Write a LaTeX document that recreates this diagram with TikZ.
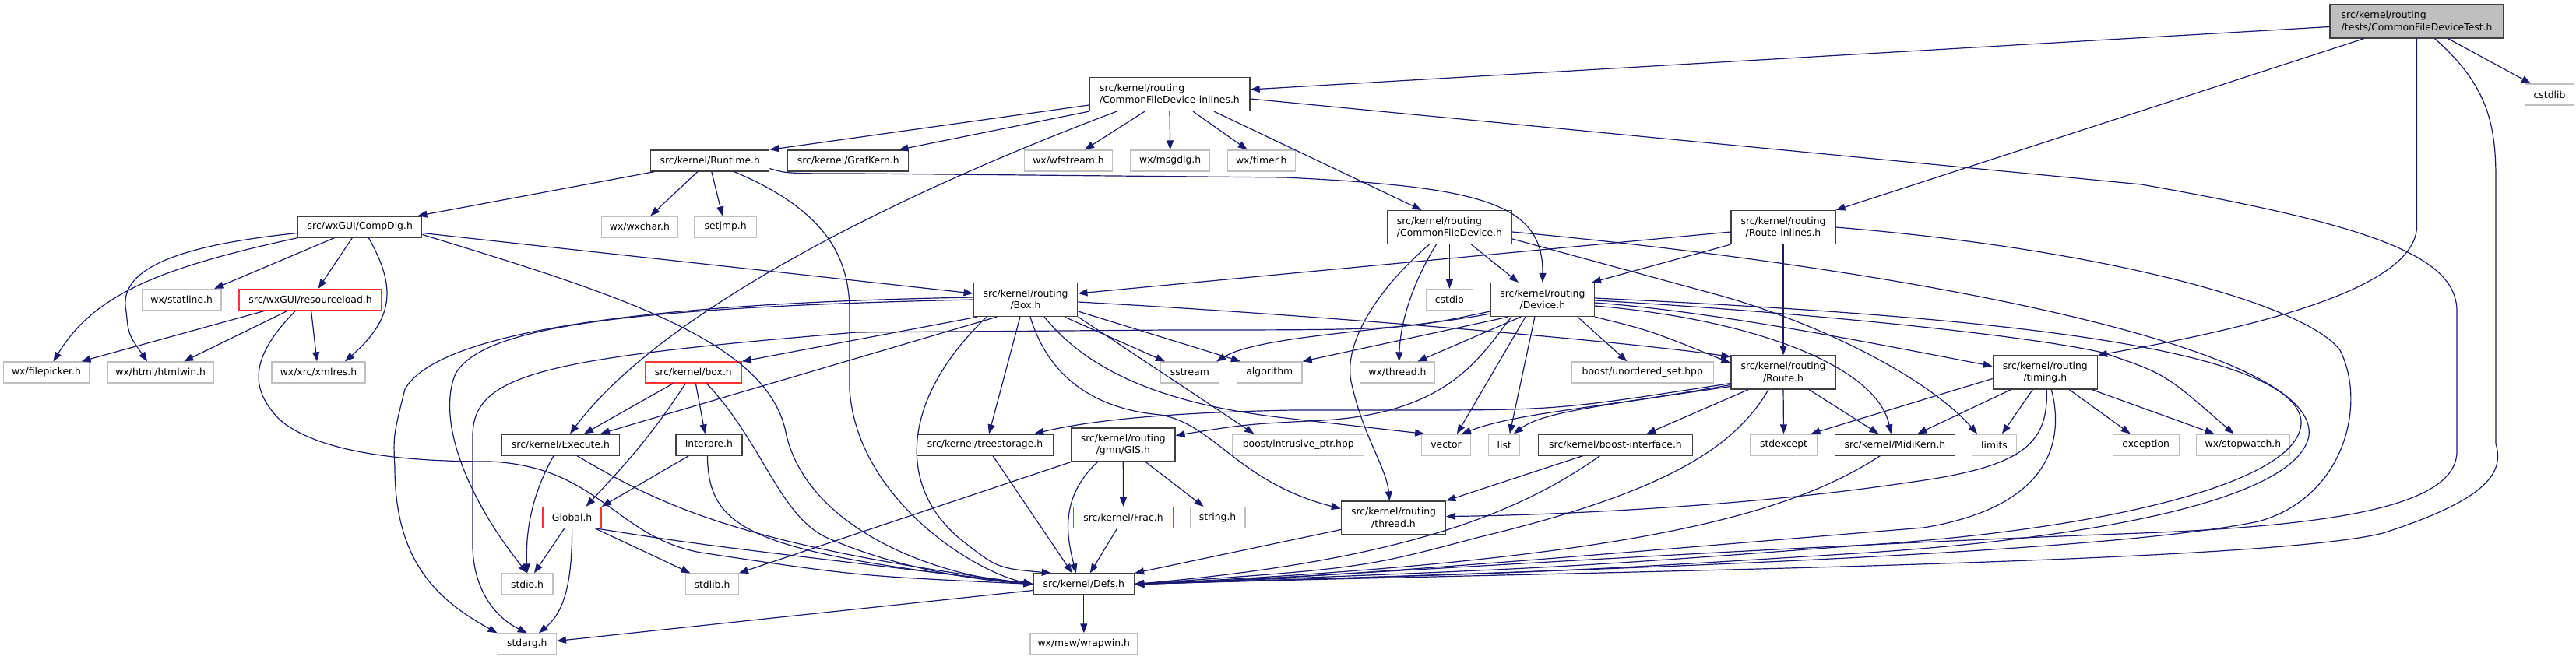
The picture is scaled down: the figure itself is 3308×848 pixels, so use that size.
\documentclass[tikz,border=0pt]{standalone}
\usepackage{fontspec}
\setmainfont{DejaVu Sans}
\usetikzlibrary{arrows.meta}
\definecolor{edgecol}{HTML}{191970}
\definecolor{trunccol}{HTML}{FF3030}
\newcommand{\dxfont}{\fontsize{12.4}{15.7}\selectfont}
\tikzset{
  hdr/.style  ={draw=black!75, fill=white, line width=1.3pt, inner sep=2pt,
                minimum height=27, font=\dxfont},
  sysh/.style ={hdr, draw=black!25},
  trunc/.style={hdr, draw=trunccol},
  root/.style ={hdr, fill=black!25},
  two/.style  ={minimum height=43},
  ar/.style   ={-{Triangle[length=12pt,width=9pt]}, draw=edgecol, line width=1.2pt},
}

\begin{document}
\begin{tikzpicture}[x=1pt, y=-1pt]
\useasboundingbox (0,0) rectangle (3308,848);
\node[root, two, minimum width=223, align=left] (test) at (3103.6,27.5) {src/kernel/routing\\/tests/CommonFileDeviceTest.h};
\node[sysh, minimum width=63.6] (cstdlib) at (3274,121.5) {cstdlib};
\node[hdr, two, minimum width=206, align=left] (cfdinl) at (1502,121) {src/kernel/routing\\/CommonFileDevice-inlines.h};
\node[hdr, minimum width=152] (runtime) at (911.8,206.5) {src/kernel/Runtime.h};
\node[hdr, minimum width=155] (grafkern) at (1089.3,206.5) {src/kernel/GrafKern.h};
\node[sysh, minimum width=113.6] (wfstream) at (1372,206.5) {wx/wfstream.h};
\node[sysh, minimum width=101.8] (msgdlg) at (1502.7,206.5) {wx/msgdlg.h};
\node[sysh, minimum width=86.8] (timer) at (1619.8,206.5) {wx/timer.h};
\node[hdr, minimum width=159] (compdlg) at (462.3,291.5) {src/wxGUI/CompDlg.h};
\node[sysh, minimum width=98] (wxchar) at (821.4,291.5) {wx/wxchar.h};
\node[sysh, minimum width=79.4] (setjmp) at (931.7,291.5) {setjmp.h};
\node[hdr, two, minimum width=160, align=left] (cfd) at (1861.4,292) {src/kernel/routing\\/CommonFileDevice.h};
\node[hdr, two, minimum width=134, align=center] (routeinl) at (2290,292) {src/kernel/routing\\/Route-inlines.h};
\node[sysh, minimum width=101.4] (statline) at (233.2,385) {wx/statline.h};
\node[trunc, minimum width=183] (resload) at (398.6,385) {src/wxGUI/resourceload.h};
\node[hdr, two, minimum width=133.6, align=center] (rbox) at (1317,385) {src/kernel/routing\\/Box.h};
\node[sysh, minimum width=60] (cstdio) at (1861.4,385) {cstdio};
\node[hdr, two, minimum width=133.2, align=center] (device) at (1980.9,385) {src/kernel/routing\\/Device.h};
\node[sysh, minimum width=109.7] (filepicker) at (59.5,478.5) {wx/filepicker.h};
\node[sysh, minimum width=136] (htmlwin) at (206.2,478.5) {wx/html/htmlwin.h};
\node[sysh, minimum width=120] (xmlres) at (409,478.5) {wx/xrc/xmlres.h};
\node[trunc, minimum width=123.5] (kbox) at (890.4,478.5) {src/kernel/box.h};
\node[sysh, minimum width=75] (sstream) at (1527.9,478.5) {sstream};
\node[sysh, minimum width=83.4] (algorithm) at (1630.3,478.5) {algorithm};
\node[sysh, minimum width=96] (wxthread) at (1794.5,478.5) {wx/thread.h};
\node[sysh, minimum width=182.8] (uset) at (2109.3,478.5) {boost/unordered\_set.hpp};
\node[hdr, two, minimum width=134, align=center] (route) at (2290,478.5) {src/kernel/routing\\/Route.h};
\node[hdr, two, minimum width=134, align=center] (timing) at (2626.3,478.5) {src/kernel/routing\\/timing.h};
\node[hdr, minimum width=151.4] (execute) at (720,571.5) {src/kernel/Execute.h};
\node[hdr, minimum width=85] (interpre) at (910.4,571.5) {Interpre.h};
\node[hdr, minimum width=175] (treestorage) at (1265,571.5) {src/kernel/treestorage.h};
\node[hdr, two, minimum width=133.2, align=center] (gis) at (1442.3,571.5) {src/kernel/routing\\/gmn/GIS.h};
\node[sysh, minimum width=169] (intrusive) at (1667.3,571.5) {boost/intrusive\_ptr.hpp};
\node[sysh, minimum width=62.5] (vector) at (1857,571.5) {vector};
\node[sysh, minimum width=40] (list) at (1931.8,571.5) {list};
\node[hdr, minimum width=197.5] (boostif) at (2074.5,571.5) {src/kernel/boost-interface.h};
\node[sysh, minimum width=85.4] (stdexcept) at (2290.5,571.5) {stdexcept};
\node[hdr, minimum width=154] (midikern) at (2433.4,571.5) {src/kernel/MidiKern.h};
\node[sysh, minimum width=56.4] (limits) at (2561,571.5) {limits};
\node[sysh, minimum width=85] (exception) at (2755.7,571.5) {exception};
\node[sysh, minimum width=119.3] (stopwatch) at (2880.4,571.5) {wx/stopwatch.h};
\node[trunc, minimum width=75] (global) at (734.6,665) {Global.h};
\node[trunc, minimum width=127.8] (frac) at (1442.5,665) {src/kernel/Frac.h};
\node[sysh, minimum width=70.7] (string) at (1563.6,665) {string.h};
\node[hdr, two, minimum width=134, align=center] (rthread) at (1789.5,665.5) {src/kernel/routing\\/thread.h};
\node[sysh, minimum width=65.7] (stdio) at (677,750.5) {stdio.h};
\node[sysh, minimum width=67.5] (stdlib) at (914.5,750.5) {stdlib.h};
\node[hdr, minimum width=129.3] (defs) at (1391.8,750.5) {src/kernel/Defs.h};
\node[sysh, minimum width=75] (stdarg) at (676.8,827.5) {stdarg.h};
\node[sysh, minimum width=137.8] (wrapwin) at (1391.8,827.5) {wx/msw/wrapwin.h};

\draw[ar] ([yshift=-7]test.west) -- ([yshift=6]cfdinl.east);
\draw[ar] ([xshift=-68]test.south) -- (routeinl.north east);
\draw[ar] (test.south) -- (3103.6,290) .. controls (3103.6,370) and (2900,420) .. (timing.north east);
\draw[ar] ([xshift=40]test.south) -- ([xshift=-24]cstdlib.north);
\draw[ar] ([xshift=23]test.south) .. controls (3195,110) and (3205,160) .. (3205,230) -- (3205,570)
  .. controls (3215,605) and (3200,640) .. (3060,685) .. controls (2900,725) and (2000,735) .. (defs.east);

\draw[ar] ([yshift=-14]cfdinl.west) -- (runtime.north east);
\draw[ar] (cfdinl.south west) -- ([xshift=-13]grafkern.north east);
\draw[ar] ([xshift=-32]cfdinl.south) -- ([xshift=21]wfstream.north);
\draw[ar] (cfdinl.south) -- (msgdlg.north);
\draw[ar] ([xshift=30]cfdinl.south) -- ([xshift=-18]timer.north);
\draw[ar] ([xshift=57]cfdinl.south) -- ([xshift=-36]cfd.north);
\draw[ar] ([xshift=-68]cfdinl.south) .. controls (1150,250) and (850,400) .. ([xshift=12]execute.north);
\draw[ar] ([yshift=-6]cfdinl.east) -- (2750,237) .. controls (3050,290) and (3155,330) .. (3155,400) -- (3155,580)
  .. controls (3155,650) and (3000,675) .. (2750,685) .. controls (2200,705) and (1700,742) .. (defs.east);

\draw[ar] ([xshift=5]runtime.south west) -- ([xshift=-6]compdlg.north east);
\draw[ar] ([xshift=-16]runtime.south) -- ([xshift=14]wxchar.north);
\draw[ar] ([xshift=2]runtime.south) -- ([xshift=-4]setjmp.north);
\draw[ar] ([yshift=-10]runtime.east) .. controls (1010,223) .. (1100,223) -- (1650,228)
  .. controls (1900,240) and (1982,260) .. (device.north);
\draw[ar] ([xshift=31]runtime.south) .. controls (1060,270) and (1091,330) .. (1091,400) -- (1091,500)
  .. controls (1100,640) and (1250,735) .. (defs.west);

\draw[ar] ([xshift=-33]compdlg.south) -- ([xshift=42]statline.north);
\draw[ar] ([xshift=-10]compdlg.south) -- ([xshift=10]resload.north);
\draw[ar] (compdlg.south west) .. controls (200,345) and (120,380) .. ([xshift=9]filepicker.north);
\draw[ar] ([yshift=-8]compdlg.west) .. controls (230,315) and (150,345) .. (162,400) .. controls (165,430) .. ([xshift=-17]htmlwin.north);
\draw[ar] ([xshift=11]compdlg.south) .. controls (510,370) and (505,410) .. ([xshift=34]xmlres.north);
\draw[ar] ([yshift=-8]compdlg.east) -- ([yshift=8]rbox.west);
\draw[ar] ([yshift=-10]compdlg.east) .. controls (800,380) and (990,440) .. (1010,560)
  .. controls (1040,680) and (1200,740) .. (defs.west);

\draw[ar] ([xshift=-58]resload.south) -- ([xshift=45]filepicker.north);
\draw[ar] ([xshift=-29]resload.south) -- ([xshift=30]htmlwin.north);
\draw[ar] ([xshift=1]resload.south) -- ([xshift=-2]xmlres.north);
\draw[ar] ([xshift=-19]resload.south) .. controls (320,460) and (320,500) .. (360,540)
  .. controls (420,590) and (560,593) .. (630,593) .. controls (770,600) and (790,690) .. (900,710)
  .. controls (1100,740) .. (defs.west);

\draw[ar] (cfd.south) -- (cstdio.north);
\draw[ar] ([xshift=28]cfd.south) -- ([xshift=-31]device.north);
\draw[ar] ([xshift=-17]cfd.south) .. controls (1810,370) and (1798,420) .. ([xshift=2]wxthread.north);
\draw[ar] ([xshift=-26]cfd.south) .. controls (1770,370) and (1725,440) .. (1735,490)
  .. controls (1750,560) and (1780,600) .. ([xshift=-5]rthread.north);
\draw[ar] ([yshift=-15]cfd.east) -- (2210,380) .. controls (2350,420) and (2480,490) .. ([xshift=-22]limits.north);
\draw[ar] ([yshift=-6]cfd.east) .. controls (2400,340) and (2980,440) .. (2965,560)
  .. controls (2950,640) and (2700,690) .. (2400,710) .. controls (2000,735) .. (defs.east);

\draw[ar] ([yshift=-6]routeinl.west) -- ([yshift=8]rbox.east);
\draw[ar] (routeinl.south west) -- ([xshift=-4]device.north east);
\draw[ar] (routeinl.south) -- (route.north);
\draw[ar] (routeinl.east) .. controls (2700,320) and (2960,390) .. (3005,450)
  .. controls (3040,520) and (3010,640) .. (2900,670) .. controls (2700,712) and (2000,735) .. (defs.east);

\draw[ar] ([xshift=-62]rbox.south) -- (kbox.north east);
\draw[ar] ([xshift=-37]rbox.south) -- ([xshift=51]execute.north);
\draw[ar] (rbox.west) .. controls (800,395) and (620,420) .. (585,480) .. controls (560,540) and (600,640) .. (stdio.north);
\draw[ar] ([yshift=3]rbox.west) .. controls (800,390) and (560,430) .. (520,500) .. controls (505,560) .. (507,600)
  .. controls (507,720) and (560,770) .. (stdarg.north west);
\draw[ar] ([xshift=-50]rbox.south) .. controls (1160,510) and (1150,620) .. (1230,690) .. controls (1280,730) .. ([xshift=-42]defs.north);
\draw[ar] ([xshift=-7]rbox.south) -- ([xshift=5]treestorage.north);
\draw[ar] ([xshift=6]rbox.south) .. controls (1345,480) and (1400,525) .. (1490,533)
  .. controls (1560,545) and (1590,620) .. ([yshift=12]rthread.west);
\draw[ar] ([xshift=24]rbox.south) .. controls (1400,480) and (1500,520) .. (1650,537) -- ([xshift=4]vector.north west);
\draw[ar] ([xshift=50]rbox.south) -- ([xshift=-32]sstream.north);
\draw[ar] (rbox.south east) -- ([xshift=-57]intrusive.north);
\draw[ar] ([yshift=-15]rbox.east) -- ([xshift=5]algorithm.north west);
\draw[ar] ([yshift=-3]rbox.east) .. controls (1700,405) and (2100,440) .. ([yshift=20]route.west);

\draw[ar] ([yshift=-18]device.west) .. controls (1800,425) and (1620,430) .. ([xshift=-4]sstream.north east);
\draw[ar] ([xshift=-44]device.south) -- (algorithm.north east);
\draw[ar] ([xshift=-28]device.south) -- ([xshift=26]wxthread.north);
\draw[ar] ([xshift=-40]device.south) .. controls (1900,460) and (1860,530) .. (1700,540) .. controls (1600,545) .. ([yshift=12]gis.east);
\draw[ar] ([xshift=-22]device.south) -- ([xshift=14]vector.north);
\draw[ar] ([xshift=-10]device.south) -- ([xshift=7]list.north);
\draw[ar] ([xshift=45]device.south) -- ([xshift=-20]uset.north);
\draw[ar] (device.south east) .. controls (2120,425) .. ([yshift=12]route.west);
\draw[ar] ([yshift=-4]device.east) .. controls (2200,400) and (2400,440) .. ([yshift=8]timing.west);
\draw[ar] ([yshift=-8]device.east) .. controls (2250,410) and (2410,470) .. ([xshift=-5]midikern.north);
\draw[ar] ([yshift=-1]device.east) .. controls (2300,400) and (2600,430) .. (2700,453) .. controls (2780,480) .. ([xshift=-12]stopwatch.north);
\draw[ar] ([yshift=2]device.east) .. controls (2400,400) and (2940,430) .. (2955,540)
  .. controls (2960,620) and (2700,680) .. (2400,700) .. controls (2000,730) .. (defs.east);
\draw[ar] ([yshift=-15]device.west) .. controls (1800,424) .. (1500,424) -- (1100,427)
  .. controls (700,460) and (607,480) .. (607,560) -- (607,700) .. controls (607,750) and (630,790) .. (stdarg.north);

\draw[ar] (route.south) -- (stdexcept.north);
\draw[ar] ([xshift=33]route.south) -- ([xshift=-21]midikern.north);
\draw[ar] ([yshift=-16]route.west) .. controls (2050,525) and (1950,530) .. ([xshift=20]vector.north);
\draw[ar] ([yshift=-18]route.west) .. controls (2050,522) and (1980,530) .. ([xshift=12]list.north);
\draw[ar] ([xshift=-45]route.south) -- ([xshift=40]boostif.north);
\draw[ar] ([yshift=-14]route.west) .. controls (2000,527) .. (1800,527) -- (1660,527)
  .. controls (1500,530) and (1400,540) .. ([xshift=-25]treestorage.north east);
\draw[ar] ([xshift=-19]route.south) .. controls (2230,570) and (2150,630) .. (1900,690) .. controls (1750,730) .. (defs.east);

\draw[ar] ([yshift=-8]timing.west) -- ([xshift=35]stdexcept.north);
\draw[ar] ([xshift=-44]timing.south) -- ([xshift=29]midikern.north);
\draw[ar] ([xshift=-16]timing.south) -- ([xshift=10]limits.north);
\draw[ar] ([xshift=31]timing.south) -- ([xshift=-20]exception.north);
\draw[ar] ([xshift=60]timing.south) -- ([xshift=-37]stopwatch.north);
\draw[ar] ([xshift=2]timing.south) .. controls (2630,570) and (2600,600) .. (2450,620)
  .. controls (2250,650) and (2000,662) .. ([yshift=2]rthread.east);
\draw[ar] ([xshift=8]timing.south) .. controls (2650,560) and (2640,650) .. (2470,678)
  .. controls (2200,700) and (1700,745) .. (defs.east);

\draw[ar] ([xshift=-19]midikern.south) .. controls (2300,660) and (2100,720) .. (defs.east);
\draw[ar] ([xshift=-42]boostif.south) -- (rthread.north east);
\draw[ar] ([xshift=-20]boostif.south) .. controls (1950,660) and (1800,720) .. (defs.east);
\draw[ar] ([yshift=-15]rthread.west) -- (defs.north east);

\draw[ar] (gis.south west) -- (stdlib.north east);
\draw[ar] ([xshift=-33]gis.south) .. controls (1360,640) and (1370,690) .. ([xshift=-10]defs.north);
\draw[ar] (gis.south) -- (frac.north);
\draw[ar] ([xshift=29]gis.south) -- ([xshift=-18]string.north);
\draw[ar] ([xshift=-8]frac.south) -- ([xshift=8]defs.north);
\draw[ar] ([xshift=10]treestorage.south) -- ([xshift=-15]defs.north);

\draw[ar] ([xshift=-26]kbox.south) -- ([xshift=30]execute.north);
\draw[ar] ([xshift=-10]kbox.south) .. controls (830,570) and (790,610) .. ([xshift=18]global.north);
\draw[ar] ([xshift=3]kbox.south) -- ([xshift=-5]interpre.north);
\draw[ar] ([xshift=17]kbox.south) .. controls (980,570) and (1000,660) .. (1060,690) .. controls (1150,730) and (1250,745) .. (defs.west);

\draw[ar] ([xshift=-9]execute.south) .. controls (680,640) and (675,690) .. (stdio.north);
\draw[ar] ([xshift=21]execute.south) .. controls (850,650) and (950,700) .. (defs.west);
\draw[ar] ([xshift=-26]interpre.south) -- (global.north east);
\draw[ar] ([xshift=-2]interpre.south) .. controls (910,680) and (960,710) .. (defs.west);
\draw[ar] ([xshift=-10]global.south) -- ([xshift=9]stdio.north);
\draw[ar] (global.south) .. controls (735,760) and (720,790) .. ([xshift=15]stdarg.north);
\draw[ar] ([xshift=30]global.south) -- ([xshift=-28]stdlib.north);
\draw[ar] ([xshift=32]global.south) .. controls (900,700) .. (defs.west);

\draw[ar] (defs.south) -- (wrapwin.north);
\draw[ar] ([yshift=-8]defs.west) -- ([yshift=4]stdarg.east);
\end{tikzpicture}
\end{document}
